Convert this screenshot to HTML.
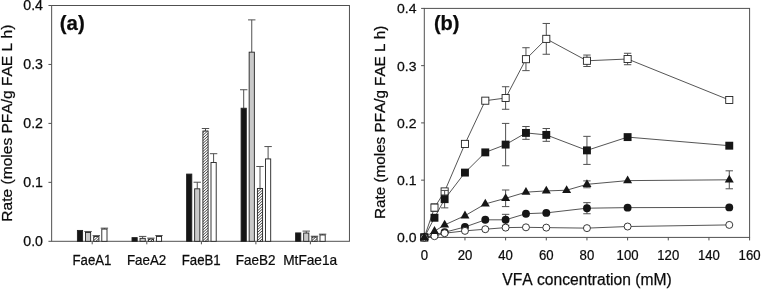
<!DOCTYPE html><html><head><meta charset="utf-8"><title>Figure</title><style>html,body{margin:0;padding:0;background:#fff}svg{display:block;filter:grayscale(1)}text{font-family:"Liberation Sans",sans-serif;fill:#0a0a0a;stroke:#111;stroke-width:0.25px;font-kerning:none}</style></head><body>
<svg width="761" height="289" viewBox="0 0 761 289" style="opacity:0.999">
<rect width="761" height="289" fill="#fff"/>
<g stroke="#505050" stroke-width="1" fill="none">
<rect x="51.65" y="5.50" width="297.80" height="235.80"/>
<line x1="48.45" y1="241.30" x2="51.65" y2="241.30"/>
<line x1="48.45" y1="182.35" x2="51.65" y2="182.35"/>
<line x1="48.45" y1="123.40" x2="51.65" y2="123.40"/>
<line x1="48.45" y1="64.45" x2="51.65" y2="64.45"/>
<line x1="48.45" y1="5.50" x2="51.65" y2="5.50"/>
<line x1="92.20" y1="241.30" x2="92.20" y2="244.30"/>
<line x1="146.80" y1="241.30" x2="146.80" y2="244.30"/>
<line x1="201.40" y1="241.30" x2="201.40" y2="244.30"/>
<line x1="255.90" y1="241.30" x2="255.90" y2="244.30"/>
<line x1="310.40" y1="241.30" x2="310.40" y2="244.30"/>
</g>
<text x="43.00" y="246.20" font-size="14.20" text-anchor="end">0.0</text>
<text x="43.00" y="187.25" font-size="14.20" text-anchor="end">0.1</text>
<text x="43.00" y="128.30" font-size="14.20" text-anchor="end">0.2</text>
<text x="43.00" y="69.35" font-size="14.20" text-anchor="end">0.3</text>
<text x="43.00" y="10.40" font-size="14.20" text-anchor="end">0.4</text>
<text transform="translate(92.00,264.50) scale(0.945,1)" font-size="14.00" text-anchor="middle">FaeA1</text>
<text transform="translate(146.60,264.50) scale(0.955,1)" font-size="14.00" text-anchor="middle">FaeA2</text>
<text transform="translate(201.20,264.50) scale(0.945,1)" font-size="14.00" text-anchor="middle">FaeB1</text>
<text transform="translate(255.70,264.50) scale(0.965,1)" font-size="14.00" text-anchor="middle">FaeB2</text>
<text transform="translate(310.20,264.50) scale(0.978,1)" font-size="14.00" text-anchor="middle">MtFae1a</text>
<text transform="translate(12.3,123.15) rotate(-90)" font-size="15.55" text-anchor="middle">Rate (moles PFA/g FAE L h)</text>
<text x="59.8" y="30" font-size="20.4" font-weight="bold">(a)</text>
<rect x="77.40" y="230.43" width="5.20" height="10.87" fill="#161616" stroke="#222" stroke-width="0.9"/>
<path d="M88.05,232.49 V231.46 M84.35,231.46 H91.75" stroke="#505050" stroke-width="1" fill="none"/>
<rect x="85.45" y="232.49" width="5.20" height="8.81" fill="#c9c9c9" stroke="#222" stroke-width="0.9"/>
<path d="M96.30,236.56 V235.64 M92.60,235.64 H100.00" stroke="#505050" stroke-width="1" fill="none"/>
<rect x="93.70" y="236.56" width="5.20" height="4.74" fill="#fff"/>
<path d="M95.90,241.30 L98.90,238.60 M93.70,240.58 L98.16,236.56 M93.70,237.88 L95.16,236.56" stroke="#222" stroke-width="0.85" fill="none"/>
<rect x="93.70" y="236.56" width="5.20" height="4.74" fill="none" stroke="#222" stroke-width="0.9"/>
<path d="M104.40,229.08 V228.15 M100.70,228.15 H108.10" stroke="#505050" stroke-width="1" fill="none"/>
<rect x="101.80" y="229.08" width="5.20" height="12.22" fill="#ffffff" stroke="#222" stroke-width="0.9"/>
<rect x="132.00" y="237.62" width="5.20" height="3.68" fill="#161616" stroke="#222" stroke-width="0.9"/>
<path d="M142.65,238.33 V236.41 M138.95,236.41 H146.35" stroke="#505050" stroke-width="1" fill="none"/>
<rect x="140.05" y="238.33" width="5.20" height="2.97" fill="#c9c9c9" stroke="#222" stroke-width="0.9"/>
<path d="M150.90,239.04 V238.12 M147.20,238.12 H154.60" stroke="#505050" stroke-width="1" fill="none"/>
<rect x="148.30" y="239.04" width="5.20" height="2.26" fill="#fff"/>
<path d="M150.50,241.30 L153.01,239.04 M148.30,240.58 L150.01,239.04" stroke="#222" stroke-width="0.85" fill="none"/>
<rect x="148.30" y="239.04" width="5.20" height="2.26" fill="none" stroke="#222" stroke-width="0.9"/>
<path d="M159.00,236.44 V235.52 M155.30,235.52 H162.70" stroke="#505050" stroke-width="1" fill="none"/>
<rect x="156.40" y="236.44" width="5.20" height="4.86" fill="#ffffff" stroke="#222" stroke-width="0.9"/>
<rect x="186.60" y="174.08" width="5.20" height="67.22" fill="#161616" stroke="#222" stroke-width="0.9"/>
<path d="M197.25,188.81 V182.23 M193.55,182.23 H200.95" stroke="#505050" stroke-width="1" fill="none"/>
<rect x="194.65" y="188.81" width="5.20" height="52.49" fill="#c9c9c9" stroke="#222" stroke-width="0.9"/>
<path d="M205.50,131.04 V128.53 M201.80,128.53 H209.20" stroke="#505050" stroke-width="1" fill="none"/>
<rect x="202.90" y="131.04" width="5.20" height="110.26" fill="#fff"/>
<path d="M205.10,241.30 L208.10,238.60 M202.90,240.58 L208.10,235.90 M202.90,237.88 L208.10,233.20 M202.90,235.18 L208.10,230.50 M202.90,232.48 L208.10,227.80 M202.90,229.78 L208.10,225.10 M202.90,227.08 L208.10,222.40 M202.90,224.38 L208.10,219.70 M202.90,221.68 L208.10,217.00 M202.90,218.98 L208.10,214.30 M202.90,216.28 L208.10,211.60 M202.90,213.58 L208.10,208.90 M202.90,210.88 L208.10,206.20 M202.90,208.18 L208.10,203.50 M202.90,205.48 L208.10,200.80 M202.90,202.78 L208.10,198.10 M202.90,200.08 L208.10,195.40 M202.90,197.38 L208.10,192.70 M202.90,194.68 L208.10,190.00 M202.90,191.98 L208.10,187.30 M202.90,189.28 L208.10,184.60 M202.90,186.58 L208.10,181.90 M202.90,183.88 L208.10,179.20 M202.90,181.18 L208.10,176.50 M202.90,178.48 L208.10,173.80 M202.90,175.78 L208.10,171.10 M202.90,173.08 L208.10,168.40 M202.90,170.38 L208.10,165.70 M202.90,167.68 L208.10,163.00 M202.90,164.98 L208.10,160.30 M202.90,162.28 L208.10,157.60 M202.90,159.58 L208.10,154.90 M202.90,156.88 L208.10,152.20 M202.90,154.18 L208.10,149.50 M202.90,151.48 L208.10,146.80 M202.90,148.78 L208.10,144.10 M202.90,146.08 L208.10,141.40 M202.90,143.38 L208.10,138.70 M202.90,140.68 L208.10,136.00 M202.90,137.98 L208.10,133.30 M202.90,135.28 L207.61,131.04 M202.90,132.58 L204.61,131.04" stroke="#222" stroke-width="0.85" fill="none"/>
<rect x="202.90" y="131.04" width="5.20" height="110.26" fill="none" stroke="#222" stroke-width="0.9"/>
<path d="M213.60,162.46 V153.70 M209.90,153.70 H217.30" stroke="#505050" stroke-width="1" fill="none"/>
<rect x="211.00" y="162.46" width="5.20" height="78.84" fill="#ffffff" stroke="#222" stroke-width="0.9"/>
<path d="M243.70,108.23 V89.74 M240.00,89.74 H247.40" stroke="#505050" stroke-width="1" fill="none"/>
<rect x="241.10" y="108.23" width="5.20" height="133.07" fill="#161616" stroke="#222" stroke-width="0.9"/>
<path d="M251.75,52.17 V19.88 M248.05,19.88 H255.45" stroke="#505050" stroke-width="1" fill="none"/>
<rect x="249.15" y="52.17" width="5.20" height="189.13" fill="#c9c9c9" stroke="#222" stroke-width="0.9"/>
<path d="M260.00,188.52 V166.49 M256.30,166.49 H263.70" stroke="#505050" stroke-width="1" fill="none"/>
<rect x="257.40" y="188.52" width="5.20" height="52.78" fill="#fff"/>
<path d="M259.60,241.30 L262.60,238.60 M257.40,240.58 L262.60,235.90 M257.40,237.88 L262.60,233.20 M257.40,235.18 L262.60,230.50 M257.40,232.48 L262.60,227.80 M257.40,229.78 L262.60,225.10 M257.40,227.08 L262.60,222.40 M257.40,224.38 L262.60,219.70 M257.40,221.68 L262.60,217.00 M257.40,218.98 L262.60,214.30 M257.40,216.28 L262.60,211.60 M257.40,213.58 L262.60,208.90 M257.40,210.88 L262.60,206.20 M257.40,208.18 L262.60,203.50 M257.40,205.48 L262.60,200.80 M257.40,202.78 L262.60,198.10 M257.40,200.08 L262.60,195.40 M257.40,197.38 L262.60,192.70 M257.40,194.68 L262.60,190.00 M257.40,191.98 L261.25,188.52 M257.40,189.28 L258.25,188.52" stroke="#222" stroke-width="0.85" fill="none"/>
<rect x="257.40" y="188.52" width="5.20" height="52.78" fill="none" stroke="#222" stroke-width="0.9"/>
<path d="M268.10,158.93 V146.57 M264.40,146.57 H271.80" stroke="#505050" stroke-width="1" fill="none"/>
<rect x="265.50" y="158.93" width="5.20" height="82.37" fill="#ffffff" stroke="#222" stroke-width="0.9"/>
<rect x="295.60" y="232.91" width="5.20" height="8.39" fill="#161616" stroke="#222" stroke-width="0.9"/>
<path d="M306.25,233.03 V231.10 M302.55,231.10 H309.95" stroke="#505050" stroke-width="1" fill="none"/>
<rect x="303.65" y="233.03" width="5.20" height="8.27" fill="#c9c9c9" stroke="#222" stroke-width="0.9"/>
<path d="M314.50,237.03 V236.23 M310.80,236.23 H318.20" stroke="#505050" stroke-width="1" fill="none"/>
<rect x="311.90" y="237.03" width="5.20" height="4.27" fill="#fff"/>
<path d="M314.10,241.30 L317.10,238.60 M311.90,240.58 L315.84,237.03 M311.90,237.88 L312.84,237.03" stroke="#222" stroke-width="0.85" fill="none"/>
<rect x="311.90" y="237.03" width="5.20" height="4.27" fill="none" stroke="#222" stroke-width="0.9"/>
<path d="M322.60,234.97 V234.17 M318.90,234.17 H326.30" stroke="#505050" stroke-width="1" fill="none"/>
<rect x="320.00" y="234.97" width="5.20" height="6.33" fill="#ffffff" stroke="#222" stroke-width="0.9"/>
<g stroke="#505050" stroke-width="1" fill="none">
<rect x="424.30" y="8.40" width="325.30" height="229.00"/>
<line x1="421.10" y1="237.40" x2="424.30" y2="237.40"/>
<line x1="421.10" y1="180.15" x2="424.30" y2="180.15"/>
<line x1="421.10" y1="122.90" x2="424.30" y2="122.90"/>
<line x1="421.10" y1="65.65" x2="424.30" y2="65.65"/>
<line x1="421.10" y1="8.40" x2="424.30" y2="8.40"/>
<line x1="424.30" y1="237.40" x2="424.30" y2="240.40"/>
<line x1="464.96" y1="237.40" x2="464.96" y2="240.40"/>
<line x1="505.62" y1="237.40" x2="505.62" y2="240.40"/>
<line x1="546.29" y1="237.40" x2="546.29" y2="240.40"/>
<line x1="586.95" y1="237.40" x2="586.95" y2="240.40"/>
<line x1="627.61" y1="237.40" x2="627.61" y2="240.40"/>
<line x1="668.27" y1="237.40" x2="668.27" y2="240.40"/>
<line x1="708.94" y1="237.40" x2="708.94" y2="240.40"/>
<line x1="749.60" y1="237.40" x2="749.60" y2="240.40"/>
</g>
<text transform="translate(416.45,242.30) scale(1.030,1)" font-size="13.60" text-anchor="end">0.0</text>
<text transform="translate(416.45,185.05) scale(1.030,1)" font-size="13.60" text-anchor="end">0.1</text>
<text transform="translate(416.45,127.80) scale(1.030,1)" font-size="13.60" text-anchor="end">0.2</text>
<text transform="translate(416.45,70.55) scale(1.030,1)" font-size="13.60" text-anchor="end">0.3</text>
<text transform="translate(416.45,13.30) scale(1.030,1)" font-size="13.60" text-anchor="end">0.4</text>
<text transform="translate(424.30,260.20) scale(0.955,1)" font-size="13.80" text-anchor="middle">0</text>
<text transform="translate(464.96,260.20) scale(0.955,1)" font-size="13.80" text-anchor="middle">20</text>
<text transform="translate(505.62,260.20) scale(0.955,1)" font-size="13.80" text-anchor="middle">40</text>
<text transform="translate(546.29,260.20) scale(0.955,1)" font-size="13.80" text-anchor="middle">60</text>
<text transform="translate(586.95,260.20) scale(0.955,1)" font-size="13.80" text-anchor="middle">80</text>
<text transform="translate(627.61,260.20) scale(0.955,1)" font-size="13.80" text-anchor="middle">100</text>
<text transform="translate(668.27,260.20) scale(0.955,1)" font-size="13.80" text-anchor="middle">120</text>
<text transform="translate(708.94,260.20) scale(0.955,1)" font-size="13.80" text-anchor="middle">140</text>
<text transform="translate(749.60,260.20) scale(0.955,1)" font-size="13.80" text-anchor="middle">160</text>
<text transform="translate(385.1,122.35) rotate(-90)" font-size="15.25" text-anchor="middle">Rate (moles PFA/g FAE L h)</text>
<text x="587" y="284.7" font-size="15.63" text-anchor="middle">VFA concentration (mM)</text>
<text x="433.9" y="30.1" font-size="20.0" font-weight="bold">(b)</text>
<path d="M424.30,237.40 L434.47,207.63 L444.63,191.43 L464.96,143.91 L485.29,100.69 L505.62,98.00 L525.96,59.18 L546.29,38.86 L586.95,60.78 L627.61,59.01 L729.27,100.00" stroke="#2a2a2a" stroke-width="0.8" fill="none"/>
<path d="M434.47,203.85 V211.41 M430.77,203.85 H438.17 M430.77,211.41 H438.17" stroke="#505050" stroke-width="1" fill="none"/>
<path d="M505.62,86.72 V109.27 M501.93,86.72 H509.32 M501.93,109.27 H509.32" stroke="#505050" stroke-width="1" fill="none"/>
<path d="M525.96,47.73 V70.63 M522.26,47.73 H529.66 M522.26,70.63 H529.66" stroke="#505050" stroke-width="1" fill="none"/>
<path d="M546.29,23.46 V54.26 M542.59,23.46 H549.99 M542.59,54.26 H549.99" stroke="#505050" stroke-width="1" fill="none"/>
<path d="M586.95,55.06 V66.51 M583.25,55.06 H590.65 M583.25,66.51 H590.65" stroke="#505050" stroke-width="1" fill="none"/>
<path d="M627.61,53.28 V64.73 M623.91,53.28 H631.31 M623.91,64.73 H631.31" stroke="#505050" stroke-width="1" fill="none"/>
<rect x="420.75" y="233.85" width="7.1" height="7.1" fill="#fff" stroke="#222" stroke-width="0.9"/>
<rect x="430.92" y="204.08" width="7.1" height="7.1" fill="#fff" stroke="#222" stroke-width="0.9"/>
<rect x="441.08" y="187.88" width="7.1" height="7.1" fill="#fff" stroke="#222" stroke-width="0.9"/>
<rect x="461.41" y="140.36" width="7.1" height="7.1" fill="#fff" stroke="#222" stroke-width="0.9"/>
<rect x="481.74" y="97.14" width="7.1" height="7.1" fill="#fff" stroke="#222" stroke-width="0.9"/>
<rect x="502.07" y="94.45" width="7.1" height="7.1" fill="#fff" stroke="#222" stroke-width="0.9"/>
<rect x="522.41" y="55.63" width="7.1" height="7.1" fill="#fff" stroke="#222" stroke-width="0.9"/>
<rect x="542.74" y="35.31" width="7.1" height="7.1" fill="#fff" stroke="#222" stroke-width="0.9"/>
<rect x="583.40" y="57.23" width="7.1" height="7.1" fill="#fff" stroke="#222" stroke-width="0.9"/>
<rect x="624.06" y="55.46" width="7.1" height="7.1" fill="#fff" stroke="#222" stroke-width="0.9"/>
<rect x="725.72" y="96.45" width="7.1" height="7.1" fill="#fff" stroke="#222" stroke-width="0.9"/>
<path d="M424.30,237.40 L434.47,217.76 L444.63,199.16 L464.96,172.59 L485.29,152.38 L505.62,144.60 L525.96,132.92 L546.29,134.92 L586.95,150.38 L627.61,137.10 L729.27,145.69" stroke="#2a2a2a" stroke-width="0.8" fill="none"/>
<path d="M444.63,190.46 V207.86 M440.93,190.46 H448.33 M440.93,207.86 H448.33" stroke="#505050" stroke-width="1" fill="none"/>
<path d="M505.62,123.42 V165.78 M501.93,123.42 H509.32 M501.93,165.78 H509.32" stroke="#505050" stroke-width="1" fill="none"/>
<path d="M525.96,126.51 V139.33 M522.26,126.51 H529.66 M522.26,139.33 H529.66" stroke="#505050" stroke-width="1" fill="none"/>
<path d="M546.29,128.51 V141.33 M542.59,128.51 H549.99 M542.59,141.33 H549.99" stroke="#505050" stroke-width="1" fill="none"/>
<path d="M586.95,136.35 V164.41 M583.25,136.35 H590.65 M583.25,164.41 H590.65" stroke="#505050" stroke-width="1" fill="none"/>
<rect x="420.35" y="233.45" width="7.9" height="7.9" fill="#161616"/>
<rect x="430.52" y="213.81" width="7.9" height="7.9" fill="#161616"/>
<rect x="440.68" y="195.21" width="7.9" height="7.9" fill="#161616"/>
<rect x="461.01" y="168.64" width="7.9" height="7.9" fill="#161616"/>
<rect x="481.34" y="148.43" width="7.9" height="7.9" fill="#161616"/>
<rect x="501.68" y="140.65" width="7.9" height="7.9" fill="#161616"/>
<rect x="522.01" y="128.97" width="7.9" height="7.9" fill="#161616"/>
<rect x="542.34" y="130.97" width="7.9" height="7.9" fill="#161616"/>
<rect x="583.00" y="146.43" width="7.9" height="7.9" fill="#161616"/>
<rect x="623.66" y="133.15" width="7.9" height="7.9" fill="#161616"/>
<rect x="725.32" y="141.74" width="7.9" height="7.9" fill="#161616"/>
<path d="M424.30,237.40 L434.47,235.11 L444.63,232.25 L464.96,226.98 L485.29,219.82 L505.62,219.82 L525.96,213.70 L546.29,212.90 L586.95,208.20 L627.61,207.63 L729.27,207.40" stroke="#2a2a2a" stroke-width="0.8" fill="none"/>
<path d="M505.62,214.33 V225.32 M501.93,214.33 H509.32 M501.93,225.32 H509.32" stroke="#505050" stroke-width="1" fill="none"/>
<path d="M586.95,202.65 V213.76 M583.25,202.65 H590.65 M583.25,213.76 H590.65" stroke="#505050" stroke-width="1" fill="none"/>
<circle cx="424.30" cy="237.40" r="3.95" fill="#161616"/>
<circle cx="434.47" cy="235.11" r="3.95" fill="#161616"/>
<circle cx="444.63" cy="232.25" r="3.95" fill="#161616"/>
<circle cx="464.96" cy="226.98" r="3.95" fill="#161616"/>
<circle cx="485.29" cy="219.82" r="3.95" fill="#161616"/>
<circle cx="505.62" cy="219.82" r="3.95" fill="#161616"/>
<circle cx="525.96" cy="213.70" r="3.95" fill="#161616"/>
<circle cx="546.29" cy="212.90" r="3.95" fill="#161616"/>
<circle cx="586.95" cy="208.20" r="3.95" fill="#161616"/>
<circle cx="627.61" cy="207.63" r="3.95" fill="#161616"/>
<circle cx="729.27" cy="207.40" r="3.95" fill="#161616"/>
<path d="M424.30,237.40 L434.47,236.20 L444.63,233.22 L464.96,230.87 L485.29,229.21 L505.62,227.61 L525.96,227.32 L546.29,227.61 L586.95,228.13 L627.61,226.52 L729.27,224.92" stroke="#2a2a2a" stroke-width="0.8" fill="none"/>
<circle cx="424.30" cy="237.40" r="3.5" fill="#fff" stroke="#222" stroke-width="0.9"/>
<circle cx="434.47" cy="236.20" r="3.5" fill="#fff" stroke="#222" stroke-width="0.9"/>
<circle cx="444.63" cy="233.22" r="3.5" fill="#fff" stroke="#222" stroke-width="0.9"/>
<circle cx="464.96" cy="230.87" r="3.5" fill="#fff" stroke="#222" stroke-width="0.9"/>
<circle cx="485.29" cy="229.21" r="3.5" fill="#fff" stroke="#222" stroke-width="0.9"/>
<circle cx="505.62" cy="227.61" r="3.5" fill="#fff" stroke="#222" stroke-width="0.9"/>
<circle cx="525.96" cy="227.32" r="3.5" fill="#fff" stroke="#222" stroke-width="0.9"/>
<circle cx="546.29" cy="227.61" r="3.5" fill="#fff" stroke="#222" stroke-width="0.9"/>
<circle cx="586.95" cy="228.13" r="3.5" fill="#fff" stroke="#222" stroke-width="0.9"/>
<circle cx="627.61" cy="226.52" r="3.5" fill="#fff" stroke="#222" stroke-width="0.9"/>
<circle cx="729.27" cy="224.92" r="3.5" fill="#fff" stroke="#222" stroke-width="0.9"/>
<path d="M424.30,237.40 L434.47,231.22 L444.63,224.92 L464.96,215.70 L485.29,203.91 L505.62,198.30 L525.96,192.17 L546.29,190.91 L566.62,190.23 L586.95,184.33 L627.61,180.61 L729.27,179.81" stroke="#2a2a2a" stroke-width="0.8" fill="none"/>
<path d="M505.62,190.00 V206.60 M501.93,190.00 H509.32 M501.93,206.60 H509.32" stroke="#505050" stroke-width="1" fill="none"/>
<path d="M586.95,180.89 V187.76 M583.25,180.89 H590.65 M583.25,187.76 H590.65" stroke="#505050" stroke-width="1" fill="none"/>
<path d="M729.27,170.82 V188.79 M725.57,170.82 H732.97 M725.57,188.79 H732.97" stroke="#505050" stroke-width="1" fill="none"/>
<path d="M424.30,232.30 L428.80,240.10 L419.80,240.10 Z" fill="#161616"/>
<path d="M434.47,226.12 L438.97,233.92 L429.97,233.92 Z" fill="#161616"/>
<path d="M444.63,219.82 L449.13,227.62 L440.13,227.62 Z" fill="#161616"/>
<path d="M464.96,210.60 L469.46,218.40 L460.46,218.40 Z" fill="#161616"/>
<path d="M485.29,198.81 L489.79,206.61 L480.79,206.61 Z" fill="#161616"/>
<path d="M505.62,193.20 L510.12,201.00 L501.12,201.00 Z" fill="#161616"/>
<path d="M525.96,187.07 L530.46,194.87 L521.46,194.87 Z" fill="#161616"/>
<path d="M546.29,185.81 L550.79,193.61 L541.79,193.61 Z" fill="#161616"/>
<path d="M566.62,185.13 L571.12,192.93 L562.12,192.93 Z" fill="#161616"/>
<path d="M586.95,179.23 L591.45,187.03 L582.45,187.03 Z" fill="#161616"/>
<path d="M627.61,175.51 L632.11,183.31 L623.11,183.31 Z" fill="#161616"/>
<path d="M729.27,174.71 L733.77,182.51 L724.77,182.51 Z" fill="#161616"/>
</svg></body></html>
